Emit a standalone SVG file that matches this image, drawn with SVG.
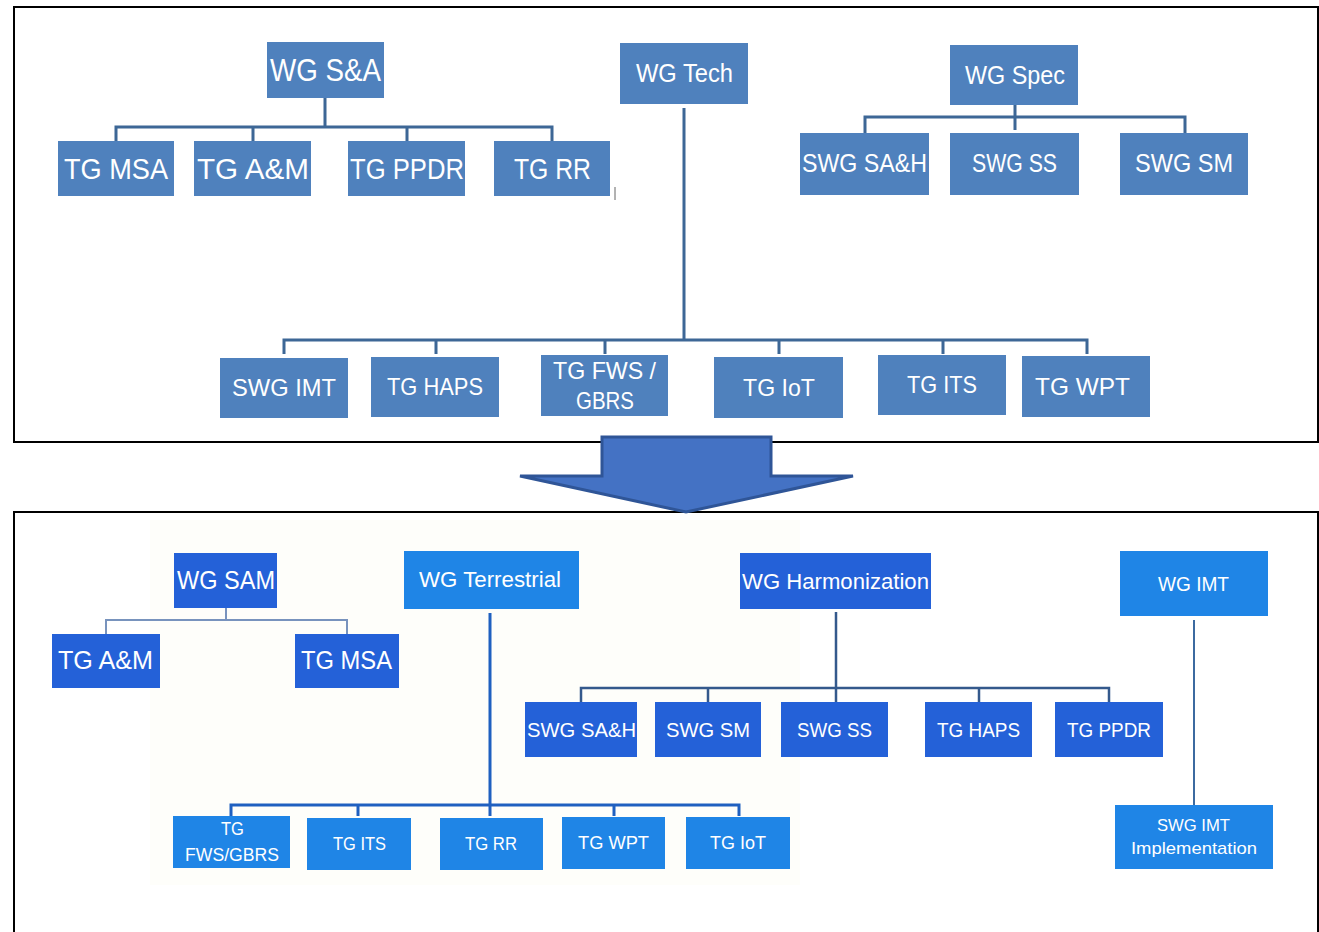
<svg xmlns="http://www.w3.org/2000/svg" width="1319" height="932" viewBox="0 0 1319 932">
<style>
.t1{fill:#4f81bd}
.bd{fill:#2461d8}
.bl{fill:#1f85e6}
text{fill:#ffffff;font-family:"Liberation Sans","Open Sans",sans-serif;text-anchor:middle}
.panel{fill:none;stroke:#000;stroke-width:2}
.ct{fill:none;stroke:#3d6796;stroke-width:3}
.cs{fill:none;stroke:#7893bd;stroke-width:2}
.cte{fill:none;stroke:#1f60c0;stroke-width:3}
.ch{fill:none;stroke:#34598c;stroke-width:2.5}
.ci{fill:none;stroke:#3c6aa0;stroke-width:2}
</style>
<rect width="1319" height="932" fill="#ffffff"/>
<rect x="150" y="520" width="650" height="365" fill="#fefefa"/>
<rect class="panel" x="14" y="7" width="1304" height="435"/>
<rect class="panel" x="14" y="512" width="1304" height="440"/>
<line x1="615" y1="187" x2="615" y2="200" stroke="#666" stroke-width="1"/>

<g id="connectors">
  <path class="ct" d="M325 98V127M116 141V127H552V141M253 127V141M407 127V141"/>
  <path class="ct" d="M684 108V340M284 354V340H1087V354M436 340V354M605 340V354M779 340V354M943 340V354"/>
  <path class="ct" d="M1015 105V130M865 133V117H1185V133"/>
  <path class="cs" d="M226 608V620M106 634V620H347V634"/>
  <path class="cte" d="M490 613V816M231 816V805H739V816M358 805V816M614 805V816"/>
  <path class="ch" d="M836 612V702M581 702V688H1109V702M708 688V702M979 688V702"/>
  <path class="ci" d="M1194 620V805"/>
</g>

<g id="arrow">
  <polygon points="602,437 771,437 771,476 853,476 686,512 520,476 602,476" fill="#4472c4" stroke="#2f5597" stroke-width="3" stroke-linejoin="miter"/>
</g>

<g id="wg-sa"><rect class="t1" x="267" y="42" width="117" height="56"/><text x="325.5" y="81" font-size="31" textLength="111" lengthAdjust="spacingAndGlyphs">WG S&amp;A</text></g>
<g id="tg-msa"><rect class="t1" x="58" y="141" width="116" height="55"/><text x="116" y="179" font-size="30" textLength="104" lengthAdjust="spacingAndGlyphs">TG MSA</text></g>
<g id="tg-am"><rect class="t1" x="194" y="141" width="117" height="55"/><text x="253" y="179" font-size="30" textLength="112" lengthAdjust="spacingAndGlyphs">TG A&amp;M</text></g>
<g id="tg-ppdr"><rect class="t1" x="348" y="141" width="117" height="55"/><text x="407" y="179" font-size="30" textLength="114" lengthAdjust="spacingAndGlyphs">TG PPDR</text></g>
<g id="tg-rr"><rect class="t1" x="494" y="141" width="116" height="55"/><text x="552.5" y="179" font-size="30" textLength="77" lengthAdjust="spacingAndGlyphs">TG RR</text></g>

<g id="wg-tech"><rect class="t1" x="620" y="43" width="128" height="61"/><text x="684.5" y="82" font-size="25" textLength="97" lengthAdjust="spacingAndGlyphs">WG Tech</text></g>

<g id="wg-spec"><rect class="t1" x="950" y="45" width="128" height="60"/><text x="1015" y="84" font-size="25" textLength="100" lengthAdjust="spacingAndGlyphs">WG Spec</text></g>
<g id="swg-sah"><rect class="t1" x="800" y="133" width="129" height="62"/><text x="864.5" y="172" font-size="25" textLength="125" lengthAdjust="spacingAndGlyphs">SWG SA&amp;H</text></g>
<g id="swg-ss"><rect class="t1" x="950" y="133" width="129" height="62"/><text x="1014.5" y="172" font-size="25" textLength="85" lengthAdjust="spacingAndGlyphs">SWG SS</text></g>
<g id="swg-sm"><rect class="t1" x="1120" y="133" width="128" height="62"/><text x="1184" y="172" font-size="25" textLength="98" lengthAdjust="spacingAndGlyphs">SWG SM</text></g>

<g id="swg-imt"><rect class="t1" x="220" y="358" width="128" height="60"/><text x="284" y="396" font-size="24" textLength="104" lengthAdjust="spacingAndGlyphs">SWG IMT</text></g>
<g id="tg-haps"><rect class="t1" x="371" y="357" width="128" height="60"/><text x="435" y="395" font-size="24" textLength="96" lengthAdjust="spacingAndGlyphs">TG HAPS</text></g>
<g id="tg-fws"><rect class="t1" x="541" y="355" width="127" height="61"/><text x="604.5" y="379" font-size="24" textLength="103" lengthAdjust="spacingAndGlyphs">TG FWS /</text><text x="605" y="409" font-size="24" textLength="58" lengthAdjust="spacingAndGlyphs">GBRS</text></g>
<g id="tg-iot"><rect class="t1" x="714" y="357" width="129" height="61"/><text x="779" y="396" font-size="24" textLength="72" lengthAdjust="spacingAndGlyphs">TG IoT</text></g>
<g id="tg-its"><rect class="t1" x="878" y="355" width="128" height="60"/><text x="942" y="393" font-size="24" textLength="70" lengthAdjust="spacingAndGlyphs">TG ITS</text></g>
<g id="tg-wpt"><rect class="t1" x="1022" y="356" width="128" height="61"/><text x="1082.5" y="395" font-size="24" textLength="95" lengthAdjust="spacingAndGlyphs">TG WPT</text></g>

<g id="wg-sam"><rect class="bd" x="174" y="553" width="103" height="55"/><text x="226" y="589" font-size="25" textLength="98" lengthAdjust="spacingAndGlyphs">WG SAM</text></g>
<g id="b-tg-am"><rect class="bd" x="52" y="634" width="108" height="54"/><text x="105.5" y="669" font-size="25" textLength="95" lengthAdjust="spacingAndGlyphs">TG A&amp;M</text></g>
<g id="b-tg-msa"><rect class="bd" x="295" y="634" width="104" height="54"/><text x="346.5" y="669" font-size="25" textLength="91" lengthAdjust="spacingAndGlyphs">TG MSA</text></g>

<g id="wg-terrestrial"><rect class="bl" x="404" y="551" width="175" height="58"/><text x="490" y="587" font-size="22" textLength="142" lengthAdjust="spacingAndGlyphs">WG Terrestrial</text></g>
<g id="b-tg-fws"><rect class="bl" x="173" y="816" width="117" height="52"/><text x="232.5" y="835" font-size="19" textLength="23" lengthAdjust="spacingAndGlyphs">TG</text><text x="232" y="861" font-size="19" textLength="94" lengthAdjust="spacingAndGlyphs">FWS/GBRS</text></g>
<g id="b-tg-its"><rect class="bl" x="307" y="818" width="104" height="52"/><text x="359.5" y="850" font-size="19" textLength="53" lengthAdjust="spacingAndGlyphs">TG ITS</text></g>
<g id="b-tg-rr"><rect class="bl" x="440" y="818" width="103" height="52"/><text x="491" y="850" font-size="19" textLength="52" lengthAdjust="spacingAndGlyphs">TG RR</text></g>
<g id="b-tg-wpt"><rect class="bl" x="562" y="817" width="103" height="52"/><text x="613.5" y="849" font-size="19" textLength="71" lengthAdjust="spacingAndGlyphs">TG WPT</text></g>
<g id="b-tg-iot"><rect class="bl" x="686" y="817" width="104" height="52"/><text x="738" y="849" font-size="19" textLength="56" lengthAdjust="spacingAndGlyphs">TG IoT</text></g>

<g id="wg-harmonization"><rect class="bd" x="740" y="553" width="191" height="56"/><text x="835.5" y="589" font-size="22" textLength="187" lengthAdjust="spacingAndGlyphs">WG Harmonization</text></g>
<g id="b-swg-sah"><rect class="bd" x="525" y="702" width="112" height="55"/><text x="581.5" y="737" font-size="21" textLength="109" lengthAdjust="spacingAndGlyphs">SWG SA&amp;H</text></g>
<g id="b-swg-sm"><rect class="bd" x="655" y="702" width="106" height="55"/><text x="708" y="737" font-size="21" textLength="84" lengthAdjust="spacingAndGlyphs">SWG SM</text></g>
<g id="b-swg-ss"><rect class="bd" x="781" y="702" width="107" height="55"/><text x="834.5" y="737" font-size="21" textLength="75" lengthAdjust="spacingAndGlyphs">SWG SS</text></g>
<g id="b-tg-haps"><rect class="bd" x="925" y="702" width="107" height="55"/><text x="978.5" y="737" font-size="21" textLength="83" lengthAdjust="spacingAndGlyphs">TG HAPS</text></g>
<g id="b-tg-ppdr"><rect class="bd" x="1055" y="702" width="108" height="55"/><text x="1109" y="737" font-size="21" textLength="84" lengthAdjust="spacingAndGlyphs">TG PPDR</text></g>

<g id="wg-imt"><rect class="bl" x="1120" y="551" width="148" height="65"/><text x="1193.5" y="591" font-size="20" textLength="71" lengthAdjust="spacingAndGlyphs">WG IMT</text></g>
<g id="swg-imt-impl"><rect class="bl" x="1115" y="805" width="158" height="64"/><text x="1193.5" y="831" font-size="17" textLength="73" lengthAdjust="spacingAndGlyphs">SWG IMT</text><text x="1194" y="854" font-size="17" textLength="126" lengthAdjust="spacingAndGlyphs">Implementation</text></g>
</svg>
